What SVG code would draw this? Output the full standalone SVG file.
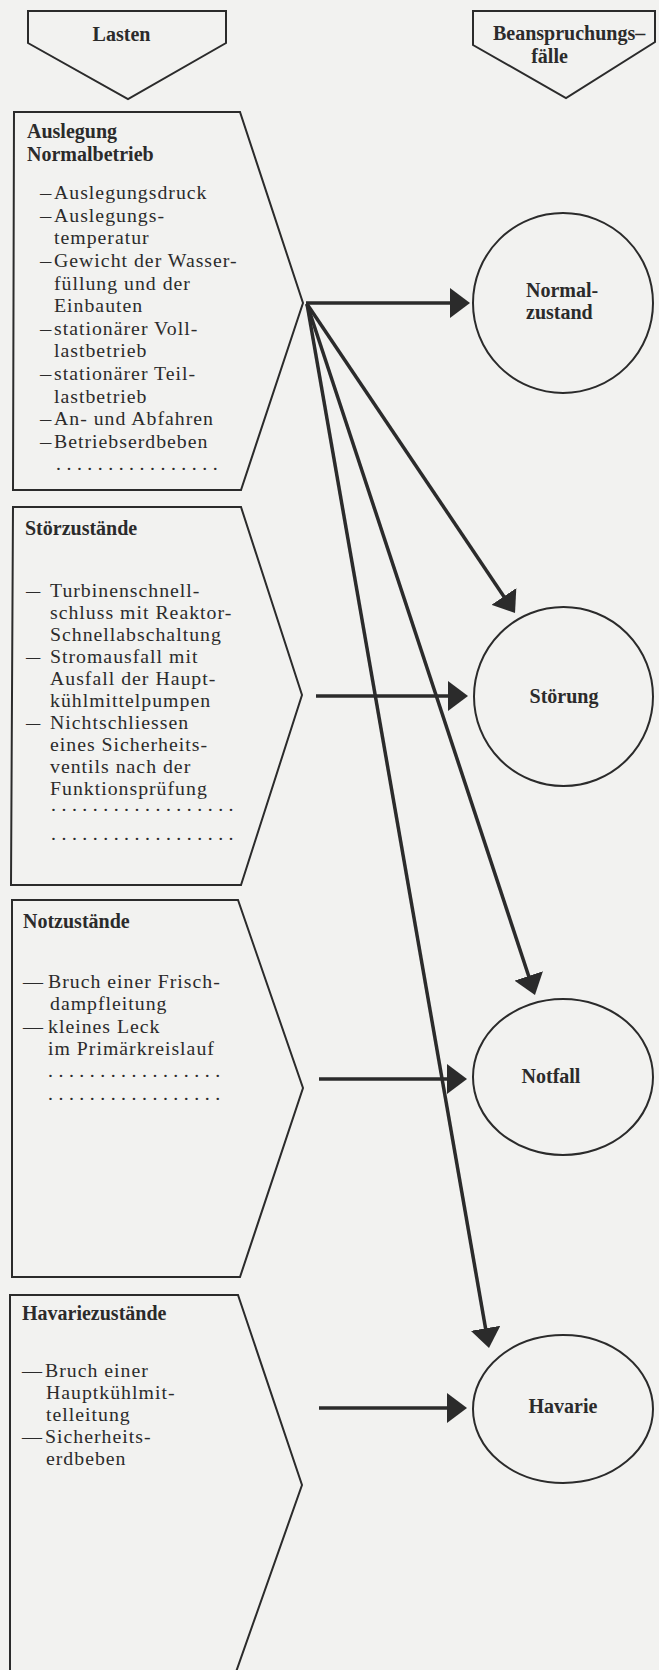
<svg xmlns="http://www.w3.org/2000/svg" width="659" height="1670" viewBox="0 0 659 1670">
<style>
.bg{fill:#f2f2f0}
.shape{fill:none;stroke:#2b2b2b;stroke-width:2;stroke-linejoin:miter}
.h{font-family:"Liberation Serif","Times New Roman",serif;font-weight:bold;font-size:20px;fill:#2b2b2b}
.t{font-family:"Liberation Serif","Times New Roman",serif;font-size:19.8px;letter-spacing:1px;fill:#2b2b2b}
.dots{font-family:"Liberation Serif","Times New Roman",serif;font-size:19.8px;fill:#2b2b2b;letter-spacing:5.5px}
.conn{fill:none;stroke:#2b2b2b;stroke-width:3.5}
</style>
<defs>
<marker id="ah" viewBox="0 0 20 30" refX="16" refY="15" markerWidth="20" markerHeight="30" markerUnits="userSpaceOnUse" orient="auto">
<path d="M0,0 L20,15 L0,30 z" fill="#2b2b2b"/>
</marker>
</defs>
<rect class="bg" x="0" y="0" width="659" height="1670"/>

<g id="head-lasten">
<polygon class="shape" points="28,11 226,11 226,43 128,99 28,43"/>
<text class="h" x="121.5" y="41" text-anchor="middle">Lasten</text>
</g>

<g id="head-faelle">
<polygon class="shape" points="473,11 655,11 655,42 566,98 473,45"/>
<text class="h" x="493" y="40">Beanspruchungs–</text>
<text class="h" x="549.5" y="63" text-anchor="middle">fälle</text>
</g>

<g id="box-normalbetrieb">
<polygon class="shape" points="14,112 240,112 303,303 241,490 13,490"/>
<text class="h" x="27" y="138">Auslegung</text>
<text class="h" x="27" y="161">Normalbetrieb</text>
<text class="t" y="199"><tspan x="40" textLength="12" lengthAdjust="spacingAndGlyphs">—</tspan> <tspan x="54">Auslegungsdruck</tspan></text>
<text class="t" y="222"><tspan x="40" textLength="12" lengthAdjust="spacingAndGlyphs">—</tspan> <tspan x="54">Auslegungs-</tspan></text>
<text class="t" x="54" y="244">temperatur</text>
<text class="t" y="267"><tspan x="40" textLength="12" lengthAdjust="spacingAndGlyphs">—</tspan> <tspan x="54">Gewicht der Wasser-</tspan></text>
<text class="t" x="54" y="290">füllung und der</text>
<text class="t" x="54" y="312">Einbauten</text>
<text class="t" y="335"><tspan x="40" textLength="12" lengthAdjust="spacingAndGlyphs">—</tspan> <tspan x="54">stationärer Voll-</tspan></text>
<text class="t" x="54" y="357">lastbetrieb</text>
<text class="t" y="380"><tspan x="40" textLength="12" lengthAdjust="spacingAndGlyphs">—</tspan> <tspan x="54">stationärer Teil-</tspan></text>
<text class="t" x="54" y="403">lastbetrieb</text>
<text class="t" y="425"><tspan x="40" textLength="12" lengthAdjust="spacingAndGlyphs">—</tspan> <tspan x="54">An- und Abfahren</tspan></text>
<text class="t" y="448"><tspan x="40" textLength="12" lengthAdjust="spacingAndGlyphs">—</tspan> <tspan x="54">Betriebserdbeben</tspan></text>
<text class="dots" x="56" y="470">................</text>
</g>

<g id="box-stoerzustaende">
<polygon class="shape" points="13,507 241,507 302,695 241,885 11,885"/>
<text class="h" x="25" y="535">Störzustände</text>
<text class="t" y="597"><tspan x="26" textLength="15" lengthAdjust="spacingAndGlyphs">—</tspan> <tspan x="50">Turbinenschnell-</tspan></text>
<text class="t" x="50" y="619">schluss mit Reaktor-</text>
<text class="t" x="50" y="641">Schnellabschaltung</text>
<text class="t" y="663"><tspan x="26" textLength="15" lengthAdjust="spacingAndGlyphs">—</tspan> <tspan x="50">Stromausfall mit</tspan></text>
<text class="t" x="50" y="685">Ausfall der Haupt-</text>
<text class="t" x="50" y="707">kühlmittelpumpen</text>
<text class="t" y="729"><tspan x="26" textLength="15" lengthAdjust="spacingAndGlyphs">—</tspan> <tspan x="50">Nichtschliessen</tspan></text>
<text class="t" x="50" y="751">eines Sicherheits-</text>
<text class="t" x="50" y="773">ventils nach der</text>
<text class="t" x="50" y="795">Funktionsprüfung</text>
<text class="dots" x="51" y="811">..................</text>
<text class="dots" x="51" y="840">..................</text>
</g>

<g id="box-notzustaende">
<polygon class="shape" points="12,900 238,900 303,1088 240,1277 12,1277"/>
<text class="h" x="23" y="928">Notzustände</text>
<text class="t" y="988"><tspan x="23" textLength="21" lengthAdjust="spacingAndGlyphs">—</tspan> <tspan x="48">Bruch einer Frisch-</tspan></text>
<text class="t" x="50" y="1010">dampfleitung</text>
<text class="t" y="1033"><tspan x="23" textLength="21" lengthAdjust="spacingAndGlyphs">—</tspan> <tspan x="48">kleines Leck</tspan></text>
<text class="t" x="48" y="1055">im Primärkreislauf</text>
<text class="dots" x="48" y="1077">.................</text>
<text class="dots" x="48" y="1100">.................</text>
</g>

<g id="box-havariezustaende">
<polyline class="shape" points="10,1672 10,1295 238,1295 302,1485 236,1672"/>
<text class="h" x="22" y="1320">Havariezustände</text>
<text class="t" y="1377"><tspan x="22" textLength="21" lengthAdjust="spacingAndGlyphs">—</tspan><tspan x="45">Bruch einer</tspan></text>
<text class="t" x="46" y="1399">Hauptkühlmit-</text>
<text class="t" x="46" y="1421">telleitung</text>
<text class="t" y="1443"><tspan x="22" textLength="21" lengthAdjust="spacingAndGlyphs">—</tspan><tspan x="45">Sicherheits-</tspan></text>
<text class="t" x="46" y="1465">erdbeben</text>
</g>

<g id="node-normalzustand">
<circle class="shape" cx="563" cy="303" r="90"/>
<text class="h" x="526" y="297">Normal-</text>
<text class="h" x="526" y="319">zustand</text>
</g>

<g id="node-stoerung">
<circle class="shape" cx="563.5" cy="696.5" r="89.5"/>
<text class="h" x="564" y="703" text-anchor="middle">Störung</text>
</g>

<g id="node-notfall">
<ellipse class="shape" cx="563" cy="1077" rx="90" ry="78"/>
<text class="h" x="551" y="1083" text-anchor="middle">Notfall</text>
</g>

<g id="node-havarie">
<ellipse class="shape" cx="563" cy="1409" rx="90" ry="74"/>
<text class="h" x="563" y="1413" text-anchor="middle">Havarie</text>
</g>

<g id="connectors">
<line class="conn" x1="306" y1="303" x2="466" y2="303" marker-end="url(#ah)"/>
<line class="conn" x1="307" y1="304" x2="512.8" y2="609.7" marker-end="url(#ah)"/>
<line class="conn" x1="307" y1="304" x2="533.7" y2="991.2" marker-end="url(#ah)"/>
<line class="conn" x1="307" y1="304" x2="488.3" y2="1344.1" marker-end="url(#ah)"/>
<line class="conn" x1="316" y1="696" x2="464" y2="696" marker-end="url(#ah)"/>
<line class="conn" x1="319" y1="1079" x2="463" y2="1079" marker-end="url(#ah)"/>
<line class="conn" x1="319" y1="1408" x2="463" y2="1408" marker-end="url(#ah)"/>
</g>
</svg>
